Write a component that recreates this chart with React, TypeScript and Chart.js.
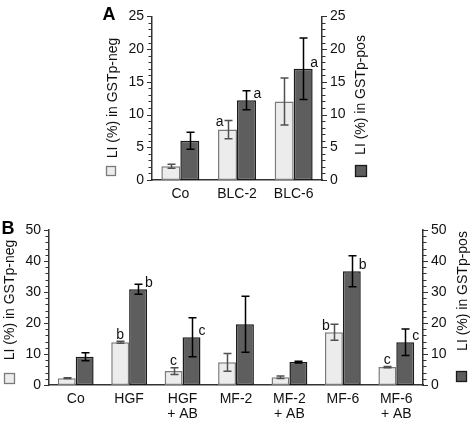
import React, { useEffect, useRef } from 'react';
import { Chart, registerables } from 'chart.js';
Chart.register(...registerables);

const FONT = '"Liberation Sans", Arial, Helvetica, sans-serif';

// ---------- Panel A data ----------
const catsA = ['Co', 'BLC-2', 'BLC-6'];
const negA = [2.1, 7.7, 12.0];
const negErrA = [0.3, 1.4, 3.6];
const posA = [6.0, 12.2, 17.0];
const posErrA = [1.3, 1.45, 4.7];
const negLettersA = ['', 'a', ''];
const negLetterSideA = ['', 'left', ''];
const posLettersA = ['', 'a', 'a'];
const yTicksA = { max: 25, step: 1, major: 5 };

// ---------- Panel B data ----------
const catsB = [['Co'], ['HGF'], ['HGF', '+ AB'], ['MF-2'], ['MF-2', '+ AB'], ['MF-6'], ['MF-6', '+ AB']];
const negB = [2.2, 13.8, 4.5, 7.3, 2.5, 17.0, 5.8];
const negErrB = [0.1, 0.3, 1.1, 2.9, 0.4, 2.6, 0.2];
const posB = [9.1, 30.9, 15.4, 19.6, 7.4, 36.7, 13.8];
const posErrB = [1.3, 1.6, 6.3, 9.0, 0.3, 5.0, 4.3];
const negLettersB = ['', 'b', 'c', '', '', 'b', 'c'];
const negLetterSideB = ['', 'top', 'top', '', '', 'left', 'top'];
const posLettersB = ['', 'b', 'c', '', '', 'b', 'c'];
const yTicksB = { max: 50, step: 2, major: 10 };

const negTitle = 'LI (%) in GSTp-neg';
const posTitle = 'LI (%) in GSTp-pos';

const LIGHT_FILL = '#ececec';
const LIGHT_BORDER = '#7a7a7a';
const DARK_FILL = '#5e5e5e';
const DARK_BORDER = '#1a1a1a';
const AXIS = '#333333';

type PanelProps = {
  tag: string;
  cats: any[];
  neg: number[];
  negErr: number[];
  pos: number[];
  posErr: number[];
  negLetters: string[];
  negSides: string[];
  posLetters: string[];
  yt: { max: number; step: number; major: number };
  layout: {
    top: number; h: number; left: number; right: number; areaTop: number; areaBottom: number;
    tagX: number; tagY: number;
    lTitleX: number; lTitleY: number; rTitleX: number; rTitleY: number;
    lSq: [number, number, number]; rSq: [number, number, number];
    xPad: number;
  };
};

function Panel(p: PanelProps) {
  const ref = useRef<HTMLCanvasElement | null>(null);
  useEffect(() => {
    const W = 472;
    const L = p.layout;
    const axisW = 40;
    const xH = L.h - L.areaBottom;
    const values = [p.neg, p.pos];
    const errs = [p.negErr, p.posErr];

    const overlay = {
      id: 'overlay',
      afterDatasetsDraw(chart: any) {
        const ctx = chart.ctx as CanvasRenderingContext2D;
        const y = chart.scales.y;
        const area = chart.chartArea;
        ctx.save();
        // tick marks (major & minor) on both vertical axes
        ctx.strokeStyle = AXIS;
        ctx.lineWidth = 1;
        y.ticks.forEach((t: any) => {
          const py = Math.round(y.getPixelForValue(t.value)) + 0.5;
          const major = Math.abs(t.value % p.yt.major) < 1e-6;
          const len = major ? 5 : 3.5;
          ctx.beginPath();
          ctx.moveTo(area.left - len, py);
          ctx.lineTo(area.left, py);
          ctx.moveTo(area.right, py);
          ctx.lineTo(area.right + len, py);
          ctx.stroke();
        });
        // error bars
        [0, 1].forEach((di) => {
          const meta = chart.getDatasetMeta(di);
          meta.data.forEach((bar: any, i: number) => {
            const v = values[di][i];
            const e = errs[di][i];
            const x = Math.round(bar.x) + 0.5;
            const yt = y.getPixelForValue(v + e);
            const yb = y.getPixelForValue(v - e);
            ctx.strokeStyle = di === 0 ? '#505050' : '#000000';
            ctx.lineWidth = 1.5;
            ctx.beginPath();
            ctx.moveTo(x, yt);
            ctx.lineTo(x, yb);
            ctx.moveTo(x - 4, yt);
            ctx.lineTo(x + 4, yt);
            ctx.moveTo(x - 4, yb);
            ctx.lineTo(x + 4, yb);
            ctx.stroke();
          });
        });
        // significance letters
        ctx.fillStyle = '#111';
        ctx.font = `14px ${FONT}`;
        const negMeta = chart.getDatasetMeta(0);
        const posMeta = chart.getDatasetMeta(1);
        p.negLetters.forEach((letter, i) => {
          if (!letter) return;
          const bar = negMeta.data[i];
          const errTop = y.getPixelForValue(p.neg[i] + p.negErr[i]);
          if (p.negSides[i] === 'top') {
            ctx.textAlign = 'center';
            ctx.textBaseline = 'alphabetic';
            ctx.fillText(letter, bar.x, errTop - 2.5);
          } else {
            ctx.textAlign = 'right';
            ctx.textBaseline = 'middle';
            ctx.fillText(letter, bar.x - 4, errTop + 2);
          }
        });
        p.posLetters.forEach((letter, i) => {
          if (!letter) return;
          const bar = posMeta.data[i];
          const barTop = y.getPixelForValue(p.pos[i]);
          ctx.textAlign = 'left';
          ctx.textBaseline = 'middle';
          ctx.fillText(letter, bar.x + 7, barTop - 6);
        });
        ctx.restore();
      },
      afterDraw(chart: any) {
        const ctx = chart.ctx as CanvasRenderingContext2D;
        ctx.save();
        ctx.fillStyle = '#000';
        ctx.font = `bold 18px ${FONT}`;
        ctx.textAlign = 'center';
        ctx.textBaseline = 'middle';
        ctx.fillText(p.tag, L.tagX, L.tagY);
        ctx.font = `14px ${FONT}`;
        ctx.fillStyle = '#111';
        const rot = (text: string, x: number, yy: number) => {
          ctx.save();
          ctx.translate(x, yy);
          ctx.rotate(-Math.PI / 2);
          ctx.textAlign = 'center';
          ctx.textBaseline = 'middle';
          ctx.fillText(text, 0, 0);
          ctx.restore();
        };
        rot(negTitle, L.lTitleX, L.lTitleY);
        rot(posTitle, L.rTitleX, L.rTitleY);
        // legend squares
        const sq = (s: [number, number, number], fill: string, stroke: string) => {
          ctx.fillStyle = fill;
          ctx.strokeStyle = stroke;
          ctx.lineWidth = 1.3;
          ctx.fillRect(s[0], s[1], s[2], s[2]);
          ctx.strokeRect(s[0] + 0.5, s[1] + 0.5, s[2] - 1, s[2] - 1);
        };
        sq(L.lSq, LIGHT_FILL, LIGHT_BORDER);
        sq(L.rSq, DARK_FILL, DARK_BORDER);
        ctx.restore();
      },
    };

    const yScale = (position: 'left' | 'right') => ({
      type: 'linear' as const,
      position,
      min: 0,
      max: p.yt.max,
      afterFit: (s: any) => { s.width = axisW; },
      ticks: {
        stepSize: p.yt.step,
        autoSkip: false,
        padding: 8,
        color: '#111',
        font: { family: FONT, size: 14 },
        callback: (v: any) => (Math.abs(Number(v) % p.yt.major) < 1e-6 ? String(v) : ''),
      },
      grid: { display: false, drawTicks: false, drawOnChartArea: false },
      border: { display: true, color: AXIS, width: 1.5 },
    });

    const chart = new Chart(ref.current as HTMLCanvasElement, {
      type: 'bar',
      data: {
        labels: p.cats,
        datasets: [
          {
            label: negTitle,
            data: p.neg,
            backgroundColor: LIGHT_FILL,
            borderColor: LIGHT_BORDER,
            borderWidth: 1.5,
            borderSkipped: false,
            categoryPercentage: 0.67,
            barPercentage: 1.0,
          },
          {
            label: posTitle,
            data: p.pos,
            backgroundColor: DARK_FILL,
            borderColor: DARK_BORDER,
            borderWidth: 1.5,
            borderSkipped: false,
            categoryPercentage: 0.67,
            barPercentage: 1.0,
          },
        ],
      },
      options: {
        responsive: false,
        animation: false,
        devicePixelRatio: 1,
        layout: {
          padding: {
            left: L.left - axisW,
            right: W - L.right - axisW,
            top: L.areaTop,
            bottom: 0,
          },
        },
        plugins: { legend: { display: false }, tooltip: { enabled: false }, title: { display: false } },
        scales: {
          x: {
            afterFit: (s: any) => { s.height = xH; },
            ticks: {
              padding: L.xPad,
              color: '#111',
              autoSkip: false,
              maxRotation: 0,
              font: { family: FONT, size: 14, lineHeight: 1.07 },
            },
            grid: { display: false, drawTicks: false, drawOnChartArea: false },
            border: { display: true, color: AXIS, width: 1.5 },
          },
          y: yScale('left'),
          y2: yScale('right'),
        },
      } as any,
      plugins: [overlay],
    });
    return () => chart.destroy();
  }, []);
  return (
    <canvas
      ref={ref}
      width={472}
      height={p.layout.h}
      style={{ position: 'absolute', left: 0, top: p.layout.top, width: 472, height: p.layout.h }}
    />
  );
}

export default function App() {
  return (
    <div style={{ position: 'fixed', left: 0, top: 0, width: 472, height: 422, background: '#fff', overflow: 'hidden' }}>
      <Panel
        tag="A"
        cats={catsA}
        neg={negA}
        negErr={negErrA}
        pos={posA}
        posErr={posErrA}
        negLetters={negLettersA}
        negSides={negLetterSideA}
        posLetters={posLettersA}
        yt={yTicksA}
        layout={{
          top: 0, h: 210, left: 152, right: 322, areaTop: 15, areaBottom: 180,
          tagX: 109, tagY: 15,
          lTitleX: 113, lTitleY: 98, rTitleX: 361, rTitleY: 95,
          lSq: [106, 166, 10], rSq: [355, 165, 12],
          xPad: 7,
        }}
      />
      <Panel
        tag="B"
        cats={catsB}
        neg={negB}
        negErr={negErrB}
        pos={posB}
        posErr={posErrB}
        negLetters={negLettersB}
        negSides={negLetterSideB}
        posLetters={posLettersB}
        yt={yTicksB}
        layout={{
          top: 210, h: 212, left: 49, right: 423, areaTop: 20, areaBottom: 175,
          tagX: 8, tagY: 19,
          lTitleX: 10, lTitleY: 90, rTitleX: 463, rTitleY: 81,
          lSq: [4, 163, 11], rSq: [456, 161, 11],
          xPad: 7,
        }}
      />
    </div>
  );
}
